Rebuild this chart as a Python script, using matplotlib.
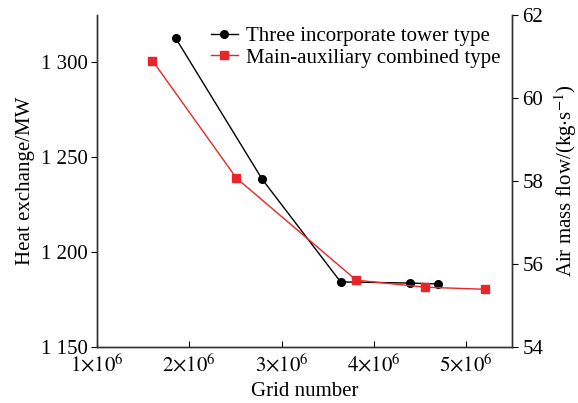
import matplotlib
matplotlib.use('Agg')
import matplotlib.pyplot as plt
from matplotlib.legend_handler import HandlerLine2D
from matplotlib.ticker import FuncFormatter, FixedLocator

# datos
grid_three = [1.854e6, 2.79e6, 3.64e6, 4.39e6, 4.70e6]
heat_three = [1312.6, 1238.4, 1184.3, 1183.7, 1183.2]

grid_main = [1.60e6, 2.51e6, 3.81e6, 4.56e6, 5.21e6]
flow_main = [60.90, 58.07, 55.61, 55.44, 55.39]

x_ticks = [1e6, 2e6, 3e6, 4e6, 5e6]
left_ticks = [1150, 1200, 1250, 1300]
right_ticks = [54, 56, 58, 60, 62]

red = '#e8262a'
plt.rcParams['font.family'] = ['Liberation Serif', 'DejaVu Serif']
plt.rcParams['mathtext.fontset'] = 'stix'
fs = 15


class MarkerFirst(HandlerLine2D):
    # marcador al inicio del trazo en la leyenda
    def get_xdata(self, legend, xdescent, ydescent, width, height, fontsize):
        xdata = [-xdescent, -xdescent + width]
        return xdata, [-xdescent]


fig = plt.figure(figsize=(5.78, 4.03), dpi=100)
ax = fig.add_axes([0.168, 0.139, 0.718, 0.824])
ax2 = ax.twinx()

l1, = ax.plot(grid_three, heat_three, color='black', lw=1, marker='o', ms=5.5,
              label='Three incorporate tower type')
l2, = ax2.plot(grid_main, flow_main, color=red, lw=1, marker='s', ms=5.5,
               label='Main-auxiliary combined type')

ax.set_xlim(1e6, 5.5e6)
ax.set_ylim(1150, 1325)
ax2.set_ylim(54, 62)

ax.xaxis.set_major_locator(FixedLocator(x_ticks))
ax.xaxis.set_major_formatter(FuncFormatter(lambda v, p: r'$%d{\times}10^{6}$' % round(v / 1e6)))
ax.yaxis.set_major_locator(FixedLocator(left_ticks))
ax.yaxis.set_major_formatter(FuncFormatter(lambda v, p: '%d %03d' % (v // 1000, v % 1000)))
ax2.yaxis.set_major_locator(FixedLocator(right_ticks))

ax.tick_params(axis='x', direction='in', labelsize=fs, length=4, pad=5)
ax.tick_params(axis='y', direction='out', labelsize=fs, length=4, pad=3)
ax2.tick_params(axis='y', direction='out', labelsize=fs, length=4)

for a in (ax, ax2):
    a.spines['top'].set_visible(False)
    for s in a.spines.values():
        s.set_color('#333333')
        s.set_linewidth(1)

ax.set_xlabel('Grid number', fontsize=fs, labelpad=4)
ax.set_ylabel('Heat exchange/MW', fontsize=fs)
ax2.set_ylabel(r'Air mass flow/(kg$\cdot$s$^{-1}$)', fontsize=fs, labelpad=6)

ax.legend([l1, l2], [l1.get_label(), l2.get_label()], loc='upper right',
          frameon=False, fontsize=fs, handlelength=1.3, handletextpad=0.4,
          borderaxespad=0.15, labelspacing=0.1,
          handler_map={l1: MarkerFirst(), l2: MarkerFirst()})

fig.savefig('out.png', dpi=100)
